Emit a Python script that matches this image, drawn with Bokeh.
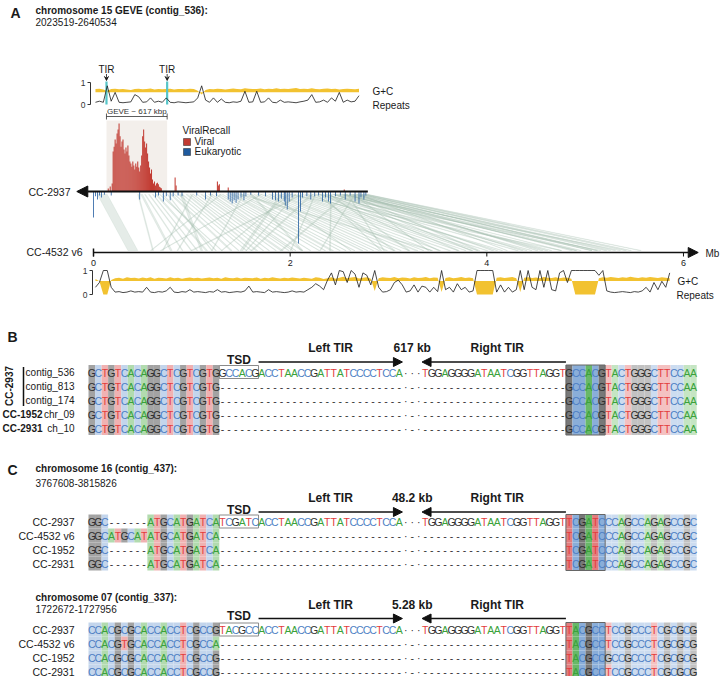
import numpy as np
from bokeh.plotting import figure
from bokeh.models import Range1d, Arrow, NormalHead, VeeHead, ColumnDataSource
from bokeh.core.properties import value
from bokeh.embed import file_html
from bokeh.resources import INLINE

FONT = "Liberation Sans"

# ---------------- Panel A data ----------------
title_A = "chromosome 15 GEVE (contig_536):"
coords_A = "2023519-2640534"
genome_top = "CC-2937"
genome_bot = "CC-4532 v6"
cc2937_len = 2.79
cc4532_axis_end = 6.15
mb_ticks = [0, 2, 4, 6]
track_ticks = [0, 1]
tir_mb = [0.132, 0.749]
geve_start, geve_end = 0.132, 0.749
geve_label = "GEVE ~ 617 kbp"
bin_mb = 0.04

rep_top = [0.1, 0.15, 0.1, 0.85, 0.15, 0.55, 0.1, 0.08, 0.1, 0.12,
           0.45, 0.35, 0.1, 0.12, 0.3, 0.1, 0.15, 0.1, 0.3, 0.1,
           0.08, 0.12, 0.1, 0.08, 0.1, 0.12, 0.3, 0.85, 0.2, 0.1,
           0.3, 0.1, 0.25, 0.1, 0.08, 0.12, 0.1, 0.15, 0.6, 0.1,
           0.12, 0.6, 0.1, 0.12, 0.3, 0.1, 0.08, 0.2, 0.1, 0.12,
           0.1, 0.08, 0.12, 0.15, 0.2, 0.45, 0.1, 0.12, 0.2, 0.1,
           0.3, 0.15, 0.55, 0.1, 0.2, 0.12, 0.15, 0.4]
gc_top = [0.70, 0.72, 0.68, 0.62, 0.70, 0.72, 0.69, 0.71, 0.68, 0.66,
          0.70, 0.72, 0.69, 0.70, 0.73, 0.68, 0.71, 0.69, 0.70, 0.72,
          0.68, 0.70, 0.71, 0.69, 0.72, 0.70, 0.62, 0.45, 0.66, 0.71,
          0.69, 0.72, 0.70, 0.68, 0.71, 0.73, 0.70, 0.69, 0.74, 0.72,
          0.70, 0.71, 0.73, 0.69, 0.72, 0.70, 0.74, 0.71, 0.72, 0.70,
          0.73, 0.75, 0.71, 0.72, 0.70, 0.74, 0.71, 0.69, 0.72, 0.73,
          0.70, 0.72, 0.68, 0.71, 0.72, 0.70, 0.69, 0.72]

rep_bot = [0.3, 0.5, 1.0, 1.0, 0.3, 0.1, 0.12, 0.08, 0.1, 0.15,
           0.1, 0.12, 0.1, 0.3, 0.1, 0.08, 0.12, 0.1, 0.15, 0.3,
           0.1, 0.08, 0.12, 0.1, 0.2, 0.1, 0.12, 0.1, 0.08, 0.12,
           0.1, 0.2, 0.1, 0.12, 0.08, 0.1, 0.12, 0.1, 0.15, 0.35,
           0.1, 0.12, 0.1, 0.08, 0.2, 0.1, 0.12, 0.1, 0.08, 0.1,
           0.15, 0.1, 0.12, 0.1, 0.2, 0.3, 0.45, 0.35, 0.2, 0.6,
           0.9, 0.4, 1.0, 0.95, 0.5, 1.0, 0.85, 0.3, 0.9, 0.8,
           0.4, 1.0, 0.3, 0.1, 0.12, 0.2, 0.5, 0.6, 0.4, 0.1,
           0.15, 0.4, 0.1, 0.35, 0.3, 0.1, 0.3, 0.12, 1.0, 0.2,
           0.3, 0.1, 0.45, 0.2, 0.3, 0.1, 0.15, 1.0, 1.0, 1.0,
           1.0, 1.0, 0.1, 0.4, 0.1, 0.3, 0.1, 0.2, 1.0, 0.2,
           1.0, 0.3, 0.2, 1.0, 0.3, 1.0, 0.2, 0.15, 0.9, 1.0,
           0.5, 1.0, 1.0, 1.0, 1.0, 1.0, 1.0, 1.0, 0.8, 1.0,
           0.15, 0.1, 0.08, 0.1, 0.12, 0.1, 0.08, 0.12, 0.1, 0.15,
           0.3, 0.1, 0.5, 0.2, 0.55, 0.3, 0.9]
gc_bot = [0.65, 0.55, 0.0, 0.0, 0.60, 0.68, 0.70, 0.66, 0.72, 0.69,
          0.70, 0.67, 0.71, 0.68, 0.72, 0.66, 0.70, 0.69, 0.67, 0.72,
          0.68, 0.70, 0.66, 0.69, 0.71, 0.68, 0.70, 0.67, 0.69, 0.71,
          0.68, 0.70, 0.66, 0.72, 0.69, 0.68, 0.71, 0.67, 0.70, 0.69,
          0.68, 0.71, 0.66, 0.70, 0.68, 0.72, 0.69, 0.67, 0.70, 0.68,
          0.71, 0.69, 0.67, 0.70, 0.68, 0.66, 0.72, 0.70, 0.65, 0.68,
          0.72, 0.66, 0.70, 0.74, 0.68, 0.71, 0.73, 0.67, 0.70, 0.72,
          0.66, 0.15, 0.68, 0.72, 0.70, 0.69, 0.73, 0.68, 0.71, 0.70,
          0.67, 0.72, 0.69, 0.70, 0.73, 0.68, 0.71, 0.70, 0.10, 0.69,
          0.72, 0.68, 0.70, 0.73, 0.69, 0.71, 0.68, 0.0, 0.0, 0.0,
          0.0, 0.0, 0.70, 0.72, 0.69, 0.71, 0.73, 0.68, 0.10, 0.70,
          0.72, 0.69, 0.71, 0.68, 0.73, 0.70, 0.69, 0.72, 0.68, 0.71,
          0.70, 0.66, 0.0, 0.0, 0.0, 0.0, 0.0, 0.0, 0.68, 0.72,
          0.70, 0.73, 0.71, 0.69, 0.72, 0.70, 0.74, 0.71, 0.69, 0.72,
          0.70, 0.73, 0.71, 0.69, 0.72, 0.70, 0.68]

viral_mb = [0.15, 0.17, 0.19,
            0.20, 0.21, 0.22, 0.23, 0.24, 0.25, 0.26, 0.27, 0.28, 0.29,
            0.30, 0.31, 0.32, 0.33, 0.34, 0.35, 0.36, 0.37, 0.38, 0.39,
            0.40, 0.41, 0.42, 0.43, 0.44, 0.45, 0.46, 0.47, 0.48, 0.49,
            0.50, 0.51, 0.52, 0.53, 0.54, 0.55, 0.56, 0.57, 0.58, 0.59,
            0.60, 0.61, 0.62, 0.63, 0.64, 0.65, 0.66, 0.67, 0.68, 0.69,
            0.83, 0.84, 1.26, 1.27, 1.28, 1.37, 2.55]
viral_score = [0.75, 1.25, 2.0,
               10, 11.2, 13, 12, 14.5, 15.5, 17, 13.8, 11.2, 12.5,
               13, 10.5, 9.5, 11, 10, 11.5, 9, 7.5, 7, 6.2,
               7.5, 6.5, 5.5, 7, 6.2, 7.5, 6, 5, 6.5, 9,
               13.8, 15.5, 12.5, 11, 12, 9.5, 7.5, 6, 4.5, 5.5,
               3, 2, 2.5, 1.5, 2, 2.2, 1.8, 1.2, 1.0, 0.8,
               3.5, 1.5, 2.5, 1.5, 1.8, 1.0, 0.5]
euk_mb = [0.00, 0.02, 0.04, 0.06, 0.08, 0.11, 0.18, 0.47, 0.63, 0.66,
          0.71, 0.74, 0.78, 0.81, 0.86, 0.90, 1.05, 1.14, 1.19, 1.25,
          1.37, 1.39, 1.41, 1.43, 1.45, 1.47, 1.50, 1.53, 1.55, 1.60,
          1.68, 1.75, 1.82, 1.85, 1.88, 1.91, 1.94, 1.95, 1.97, 1.99,
          2.02, 2.085, 2.105, 2.125, 2.17, 2.21, 2.25, 2.29, 2.33, 2.36,
          2.39, 2.41, 2.46, 2.51, 2.56, 2.61, 2.66, 2.70, 2.72, 2.75, 2.77]
euk_score = [6.5, 1.2, 2, 1, 1.5, 0.8, 1, 2, 1.5, 1,
             2.5, 1.2, 2.2, 1.2, 1, 1.2, 1, 2, 1, 1.2,
             2, 2.5, 3, 2.2, 2.8, 2, 1.5, 2.2, 1.2, 0.8,
             1, 1.2, 2, 2.2, 2.5, 1.8, 2.5, 3.5, 4.5, 2.5,
             1.5, 13, 5, 1.5, 1.2, 2, 1.2, 1, 2.5, 1.5,
             2.5, 3, 1.2, 1, 2, 1, 2.5, 3, 1.5, 2, 1]

syn_2937_start = [0.04, 0.48, 0.56, 0.63, 0.70, 0.78, 0.86, 0.94, 1.01, 1.09, 1.17, 1.24, 1.31, 1.39, 1.47, 1.56, 1.63,
                  1.70, 1.78, 1.85, 1.92, 2.00, 2.07, 2.15, 2.22, 2.29, 2.36, 2.42, 2.48, 2.54, 2.60, 2.66, 2.73, 2.77,
                  2.11, 2.41, 1.70, 2.56, 1.29, 1.90, 2.31, 1.60, 2.21, 0.88, 1.49, 2.00, 2.46, 1.80,
                  2.50, 2.64, 2.70, 2.30, 2.58,
                  2.33, 2.38, 2.44, 2.52, 2.57, 2.62, 2.68, 2.71, 2.75, 2.78, 2.40, 2.26, 2.60, 2.67, 2.55,
                  0.52, 0.67, 0.82, 0.98, 1.13, 1.28, 1.43, 1.59, 1.74, 1.88, 2.04, 2.18,
                  1.98, 2.25, 1.52, 2.65, 1.20,
                  0.45, 0.60, 0.75, 0.90, 1.05, 1.20, 1.35, 1.50, 1.66, 1.82, 1.96, 2.12, 2.27, 2.35, 2.45,
                  2.53, 2.63, 2.72, 1.00, 2.05]
syn_2937_end = [0.14, 0.50, 0.57, 0.65, 0.71, 0.80, 0.87, 0.96, 1.02, 1.11, 1.18, 1.26, 1.32, 1.42, 1.48, 1.58, 1.64,
                1.72, 1.79, 1.87, 1.93, 2.02, 2.08, 2.17, 2.23, 2.31, 2.37, 2.44, 2.49, 2.56, 2.61, 2.68, 2.74, 2.79,
                2.13, 2.42, 1.71, 2.58, 1.30, 1.92, 2.32, 1.62, 2.23, 0.91, 1.52, 2.01, 2.48, 1.81,
                2.51, 2.65, 2.71, 2.31, 2.59,
                2.34, 2.39, 2.45, 2.53, 2.58, 2.63, 2.69, 2.72, 2.76, 2.79, 2.41, 2.27, 2.62, 2.68, 2.56,
                0.53, 0.68, 0.83, 0.99, 1.14, 1.29, 1.44, 1.60, 1.75, 1.89, 2.05, 2.19,
                1.99, 2.26, 1.53, 2.66, 1.21,
                0.46, 0.61, 0.76, 0.91, 1.06, 1.21, 1.36, 1.51, 1.67, 1.83, 1.97, 2.13, 2.28, 2.36, 2.46,
                2.54, 2.64, 2.73, 1.01, 2.06]
syn_4532_start = [0.35, 0.78, 0.99, 1.14, 1.24, 1.39, 1.55, 1.65, 1.78, 1.90, 2.02, 2.11, 2.29, 2.41, 2.56, 2.72, 2.84,
                  2.97, 3.12, 3.27, 3.43, 3.61, 3.78, 3.99, 4.15, 4.30, 4.45, 4.60, 4.75, 4.90, 4.95, 5.10, 5.25, 5.45,
                  0.99, 2.40, 0.68, 1.90, 0.58, 1.49, 2.92, 2.11, 1.60, 1.09, 3.43, 4.75, 3.83, 2.61,
                  5.35, 3.40, 4.20, 5.15, 2.95,
                  3.50, 3.70, 4.05, 4.35, 4.55, 4.85, 5.05, 5.20, 5.40, 5.55, 3.20, 3.05, 3.90, 4.50, 5.06,
                  0.90, 1.30, 1.47, 1.72, 1.98, 2.20, 2.50, 2.78, 3.05, 3.35, 3.70, 3.90,
                  1.30, 2.00, 1.20, 2.30, 0.85,
                  0.60, 1.05, 1.20, 1.60, 1.85, 2.05, 2.35, 2.65, 2.90, 3.20, 3.52, 3.85, 4.10, 4.40, 4.65,
                  4.90, 5.12, 5.30, 0.70, 1.55]
syn_4532_end = [0.45, 0.80, 1.00, 1.16, 1.25, 1.41, 1.56, 1.67, 1.79, 1.93, 2.03, 2.13, 2.30, 2.44, 2.57, 2.74, 2.85,
                2.99, 3.13, 3.30, 3.44, 3.63, 3.79, 4.01, 4.16, 4.32, 4.46, 4.62, 4.76, 4.92, 4.96, 5.12, 5.26, 5.47,
                1.01, 2.41, 0.69, 1.92, 0.59, 1.52, 2.93, 2.13, 1.62, 1.11, 3.45, 4.76, 3.85, 2.62,
                5.36, 3.41, 4.21, 5.16, 2.96,
                3.52, 3.72, 4.07, 4.37, 4.57, 4.87, 5.07, 5.22, 5.42, 5.57, 3.22, 3.07, 3.93, 4.52, 5.07,
                0.91, 1.31, 1.48, 1.73, 1.99, 2.21, 2.51, 2.79, 3.06, 3.36, 3.71, 3.91,
                1.31, 2.01, 1.21, 2.31, 0.86,
                0.61, 1.06, 1.21, 1.61, 1.86, 2.06, 2.36, 2.66, 2.91, 3.21, 3.53, 3.86, 4.11, 4.41, 4.66,
                4.91, 5.13, 5.31, 0.71, 1.56]

# ---------------- Panels B / C data ----------------
TIR_L = "ACCTAACCGATTATCCCCTCCA"
TIR_R = "TGGAGGGGATAATCGGTTAGGT"
DOTS = "···"
GAP_MARK = "·-·"

B_labels = ["contig_536", "contig_813", "contig_174", "chr_09", "ch_10"]
B_left = ["GCTGTCACAGGCTCGTCGTG"] * 5
B_tsd = "GCCACG"
B_right = ["GCCACGTACTGGGCTTCCAA"] * 5
B_gap = "617 kb"

C1_title = "chromosome 16 (contig_437):"
C1_coords = "3767608-3815826"
C_labels = ["CC-2937", "CC-4532 v6", "CC-1952", "CC-2931"]
C1_left = ["GGC------ATGCATGATCA", "GGCATGCATATGCATGATCA", "GGC------ATGCATGATCA", "GGC------ATGCATGATCA"]
C1_tsd = "TCGATC"
C1_right = ["TCGATCCCAGCCAGAGCCGC"] * 4
C1_gap = "48.2 kb"

C2_title = "chromosome 07 (contig_337):"
C2_coords = "1722672-1727956"
C2_left = ["CCACGCGCACCACCTCGCCG", "CCACGTGCACCACCTCGCCA", "CCACGCGCACCACCTCGCCG", "CCACGCGCACCACCTCGCCG"]
C2_tsd = "TACGCC"
C2_right = ["TACGCCTCCGCCCTCGCGCG", "TACGCCTCCGCCCTCGCGCG", "TACGCCGCCGCCCTCGCGCG", "TACGCCTCCGCCCTCGCGCG"]
C2_gap = "5.28 kb"

LETTER = {"A": "#3aa23a", "C": "#4d7fc4", "G": "#2e2e2e", "T": "#e33c3c"}
BG_MID = {"A": "#b2dbaf", "C": "#c3d5ec", "G": "#a3a3a3", "T": "#f0b2b2"}
BG_DARK = {"A": "#68b868", "C": "#8aaed9", "G": "#787878", "T": "#e37d7d"}
BG_LIGHT = {"A": "#c5e5c3", "C": "#ccdcf0", "G": "#c2c2c2", "T": "#f4c1c1"}

# ---------------- layout ----------------
W, H = 720, 676
PX0, PX1 = 0, W            # page x of frame edges
PY0, PY1 = H, 0            # page y of frame bottom / top
CHAR_X0, CHAR_W = 88, 6.54
MB_X0, MB_PX = 93, 98.33
GC_REF = 0.56


def lin_range(v_a, p_a, v_b, p_b, p_start, p_end):
    k = (v_b - v_a) / (p_b - p_a)
    return Range1d(start=v_a + (p_start - p_a) * k, end=v_a + (p_end - p_a) * k)


p = figure(width=W, height=H, output_backend="svg", toolbar_location=None, title=None,
           x_range=lin_range(0, CHAR_X0, 1, CHAR_X0 + CHAR_W, PX0, PX1),
           y_range=Range1d(start=PY0, end=PY1),
           x_axis_location=None, y_axis_location=None, min_border=0,
           outline_line_color=None)
p.grid.visible = False
p.extra_x_ranges = {"px": Range1d(start=PX0, end=PX1),
                    "mb": lin_range(0, MB_X0, 1, MB_X0 + MB_PX, PX0, PX1)}
p.extra_y_ranges = {"top": lin_range(0, 104, 1, 82, PY0, PY1),
                    "bot": lin_range(0, 294, 1, 270, PY0, PY1),
                    "vir": lin_range(0, 191, 1, 187, PY0, PY1)}


def T(x, y, s, size=10, bold=False, align="left", color="#1a1a1a", xr="px", yr="default",
      angle=0.0, baseline="middle"):
    p.text(x=[x], y=[y], text=[s], x_range_name=xr, y_range_name=yr, angle=angle,
           text_font=value(FONT), text_font_size=f"{size}px",
           text_font_style="bold" if bold else "normal",
           text_align=align, text_baseline=baseline, text_color=color)


# ================= Panel A =================
T(10, 12, "A", 14, True)
T(35, 10, title_A, 10, True)
T(35, 21, coords_A, 10)

# GEVE shaded region
p.quad(left=[geve_start], right=[geve_end], top=[120], bottom=[191], x_range_name="mb",
       fill_color="#f3efeb", line_color=None)

# synteny ribbons
xs = [[a, b, d, c] for a, b, c, d in zip(syn_2937_start, syn_2937_end, syn_4532_start, syn_4532_end)]
ys = [[194, 194, 250, 250] for _ in xs]
p.patches(xs, ys, x_range_name="mb", fill_color="#a9c0b3", fill_alpha=0.3,
          line_color="#a9c0b3", line_alpha=0.28, line_width=0.7)

# ViralRecall bars
p.vbar(x=viral_mb, top=viral_score, bottom=0, width=0.0105, x_range_name="mb", y_range_name="vir",
       fill_color="#c23b32", line_color=None)
p.vbar(x=euk_mb, top=0, bottom=[-s for s in euk_score], width=0.008, x_range_name="mb",
       y_range_name="vir", fill_color="#1f5a9e", line_color=None)

# CC-2937 axis (reverse arrow)
p.add_layout(Arrow(x_start=cc2937_len, y_start=191, x_end=-0.17, y_end=191, x_range_name="mb",
                   line_width=1.8, line_color="#111111",
                   end=NormalHead(size=11, fill_color="#111111", line_color="#111111")))
T(70, 191, genome_top, 10.5, align="right")

# CC-4532 axis
p.add_layout(Arrow(x_start=0, y_start=252, x_end=cc4532_axis_end, y_end=252, x_range_name="mb",
                   line_width=1.5, line_color="#111111",
                   end=NormalHead(size=10, fill_color="#111111", line_color="#111111")))
p.segment(x0=mb_ticks, x1=mb_ticks, y0=[252] * len(mb_ticks), y1=[256] * len(mb_ticks),
          x_range_name="mb", line_color="#111111", line_width=1)
p.segment(x0=[0], x1=[0], y0=[248], y1=[256], x_range_name="mb", line_color="#111111", line_width=1.5)
p.text(x=mb_ticks, y=[262] * len(mb_ticks), text=[str(t) for t in mb_ticks], x_range_name="mb",
       text_font=value(FONT), text_font_size="9px", text_align="center", text_baseline="middle",
       text_color="#1a1a1a")
T(705, 253, "Mb", 10)
T(82, 251, genome_bot, 10.5, align="right")

# top track (contig_536)
x_gc_top = (np.arange(len(gc_top)) + 0.5) * bin_mb
x_rep_top = (np.arange(len(rep_top)) + 0.5) * bin_mb
p.varea(x=x_gc_top, y1=GC_REF, y2=gc_top, x_range_name="mb", y_range_name="top", fill_color="#f2c230")
p.segment(x0=tir_mb, x1=tir_mb, y0=[0] * 2, y1=[1.05] * 2, x_range_name="mb", y_range_name="top",
          line_color="#56c5c8", line_width=2.2)
p.line(x_rep_top, rep_top, x_range_name="mb", y_range_name="top", line_color="#1a1a1a", line_width=0.8)
p.segment(x0=[90], x1=[90], y0=[0], y1=[1], x_range_name="px", y_range_name="top", line_color="#333", line_width=1)
p.segment(x0=[87, 87], x1=[90, 90], y0=track_ticks, y1=track_ticks, x_range_name="px", y_range_name="top",
          line_color="#333", line_width=1)
p.text(x=[85, 85], y=track_ticks, text=[str(t) for t in track_ticks], x_range_name="px", y_range_name="top",
       text_font=value(FONT), text_font_size="8.5px", text_align="right", text_baseline="middle",
       text_color="#333")
T(372, 91, "G+C", 10)
T(372, 104.5, "Repeats", 10)

# TIR marks
for t in tir_mb:
    T(t, 69, "TIR", 10, xr="mb", align="center")
    p.add_layout(Arrow(x_start=t, y_start=73.5, x_end=t, y_end=80, x_range_name="mb", line_width=0.8,
                       line_color="#111", end=VeeHead(size=4, line_width=0.8, line_color="#111")))

# GEVE bracket
p.segment(x0=[geve_start], x1=[geve_end], y0=[116], y1=[116], x_range_name="mb", line_color="#333", line_width=0.8)
p.segment(x0=[geve_start, geve_end], x1=[geve_start, geve_end], y0=[113, 113], y1=[119, 119],
          x_range_name="mb", line_color="#333", line_width=0.8)
T((geve_start + geve_end) / 2, 111, geve_label, 8, xr="mb", align="center", color="#333")

# ViralRecall legend
T(182, 130, "ViralRecall", 10)
p.quad(left=[183], right=[190], top=[138], bottom=[145], x_range_name="px", fill_color="#c23b32", line_color="#222", line_width=0.5)
p.quad(left=[183], right=[190], top=[148], bottom=[155], x_range_name="px", fill_color="#1f5a9e", line_color="#222", line_width=0.5)
T(194, 141, "Viral", 10)
T(194, 151, "Eukaryotic", 10)

# bottom track (CC-4532 v6)
x_gc_bot = (np.arange(len(gc_bot)) + 0.5) * bin_mb
x_rep_bot = (np.arange(len(rep_bot)) + 0.5) * bin_mb
p.varea(x=x_gc_bot, y1=GC_REF, y2=gc_bot, x_range_name="mb", y_range_name="bot", fill_color="#f2c230")
p.line(x_rep_bot, rep_bot, x_range_name="mb", y_range_name="bot", line_color="#1a1a1a", line_width=0.8)
p.segment(x0=[92], x1=[92], y0=[0], y1=[1], x_range_name="px", y_range_name="bot", line_color="#333", line_width=1)
p.segment(x0=[89, 89], x1=[92, 92], y0=track_ticks, y1=track_ticks, x_range_name="px", y_range_name="bot",
          line_color="#333", line_width=1)
p.text(x=[87, 87], y=track_ticks, text=[str(t) for t in track_ticks], x_range_name="px", y_range_name="bot",
       text_font=value(FONT), text_font_size="8.5px", text_align="right", text_baseline="middle",
       text_color="#333")
T(677, 281, "G+C", 10)
T(676, 294.5, "Repeats", 10)


# ================= Panels B / C =================
def alignment(labels, lefts, tsd, rights, gap_label, arrow_y, row_y0, label_size=10):
    n_left, n_tsd = len(lefts[0]), len(tsd)
    c_tsd = n_left
    c_tir = c_tsd + n_tsd
    c_dot = c_tir + len(TIR_L)
    c_tirr = c_dot + len(DOTS)
    c_rt = c_tirr + len(TIR_R)
    c_rf = c_rt + n_tsd
    row_h = 14
    bx, by, bc = [], [], []
    lx, ly, lt, lc = [], [], [], []
    ys_rows = []
    for i, (l, r) in enumerate(zip(lefts, rights)):
        if i == 0:
            mid = tsd + TIR_L + DOTS + TIR_R
        else:
            mid = "-" * (n_tsd + len(TIR_L)) + GAP_MARK + "-" * len(TIR_R)
        row = l + mid + r
        y = row_y0 + i * row_h
        ys_rows.append(y)
        for c, ch in enumerate(row):
            if ch in "ACGT":
                pal = None
                if c < c_tsd:
                    pal = BG_MID
                elif c_rt <= c < c_rf:
                    pal = BG_DARK
                elif c >= c_rf:
                    pal = BG_LIGHT
                if pal is not None:
                    bx.append(c)
                    by.append(y)
                    bc.append(pal[ch])
            lx.append(c + 0.5)
            ly.append(y + 0.5)
            lt.append(ch)
            lc.append(LETTER.get(ch, "#333333"))
    p.quad(left=bx, right=[v + 1 for v in bx], top=[v - 7 for v in by], bottom=[v + 7 for v in by],
           fill_color=bc, line_color=None)
    # TSD boxes
    p.quad(left=[c_tsd], right=[c_tir], top=[ys_rows[0] - 6.5], bottom=[ys_rows[0] + 6.5],
           fill_color=None, line_color="#8a8a8a", line_width=1)
    p.quad(left=[c_rt], right=[c_rf], top=[ys_rows[0] - 7], bottom=[ys_rows[-1] + 7],
           fill_color=None, line_color="#666666", line_width=1)
    src = ColumnDataSource(dict(x=lx, y=ly, t=lt, c=lc))
    p.text(x="x", y="y", text="t", text_color="c", source=src, text_font=value(FONT),
           text_font_size="10.5px", text_align="center", text_baseline="middle")
    # annotations
    T(c_tsd + n_tsd / 2, arrow_y - 2.5, "TSD", 12, True, align="center", xr="default")
    T((c_tir + c_dot) / 2, arrow_y - 14, "Left TIR", 12, True, align="center", xr="default")
    T((c_dot + c_tirr) / 2, arrow_y - 14, gap_label, 12, True, align="center", xr="default")
    T((c_tirr + c_rt) / 2 + 0.5, arrow_y - 14, "Right TIR", 12, True, align="center", xr="default")
    p.add_layout(Arrow(x_start=c_tir, y_start=arrow_y, x_end=c_dot, y_end=arrow_y, line_width=1.5,
                       line_color="#111", end=NormalHead(size=9, fill_color="#111", line_color="#111")))
    p.add_layout(Arrow(x_start=c_rt, y_start=arrow_y, x_end=c_tirr, y_end=arrow_y, line_width=1.5,
                       line_color="#111", end=NormalHead(size=9, fill_color="#111", line_color="#111")))
    if labels is not None:
        for lab, y in zip(labels, ys_rows):
            T(74, y, lab, label_size, align="right")
    return ys_rows


# Panel B
T(7, 336, "B", 14, True)
rowsB = alignment(B_labels, B_left, B_tsd, B_right, B_gap, 361.5, 371.5)
T(9, (rowsB[0] + rowsB[2]) / 2, "CC-2937", 10, True, align="center", angle=np.pi / 2)
p.segment(x0=[23], x1=[23], y0=[rowsB[0] - 5], y1=[rowsB[2] + 6], x_range_name="px", line_color="#111", line_width=1.5)
T(2, rowsB[3], "CC-1952", 10, True)
T(2, rowsB[4], "CC-2931", 10, True)

# Panel C
T(7, 469, "C", 14, True)
T(35, 468, C1_title, 10, True)
T(35, 482, C1_coords, 10)
alignment(C_labels, C1_left, C1_tsd, C1_right, C1_gap, 511.5, 521, 10.5)

T(35, 597, C2_title, 10, True)
T(35, 608, C2_coords, 10)
alignment(C_labels, C2_left, C2_tsd, C2_right, C2_gap, 618, 629, 10.5)

open("out.html", "w").write(file_html(p, INLINE))
